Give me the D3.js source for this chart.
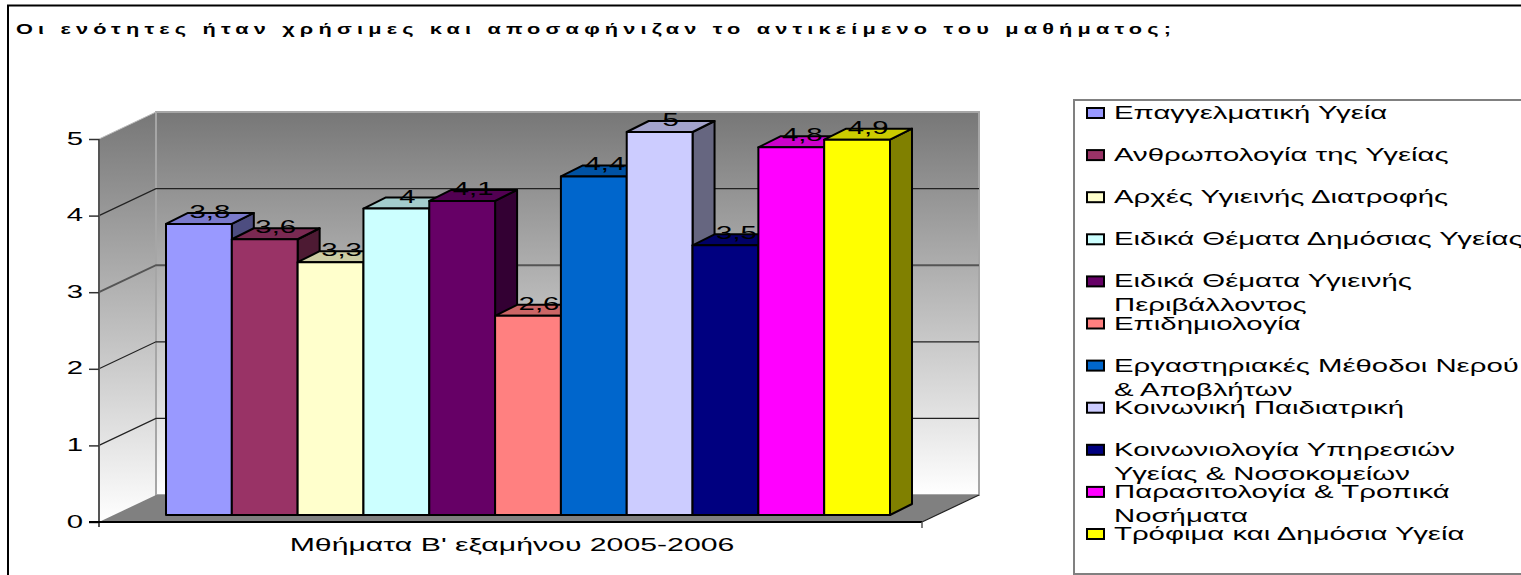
<!DOCTYPE html>
<html>
<head>
<meta charset="utf-8">
<script src="https://cdn.jsdelivr.net/npm/d3@7"></script>
<style>
  html, body { margin: 0; padding: 0; background: #fff; overflow: hidden; }
  svg { display: block; }
  text { font-family: "Liberation Sans", Arial, sans-serif; fill: #000; }
</style>
</head>
<body>
<div id="chart"></div>
<script>
const chartTitle = "Οι ενότητες ήταν χρήσιμες και αποσαφήνιζαν το αντικείμενο του μαθήματος;";
const axisTitle = "Μθήματα Β' εξαμήνου 2005-2006";
const courses = [
  "Επαγγελματική Υγεία",
  "Ανθρωπολογία της Υγείας",
  "Αρχές Υγιεινής Διατροφής",
  "Ειδικά Θέματα Δημόσιας Υγείας",
  "Ειδικά Θέματα Υγιεινής\nΠεριβάλλοντος",
  "Επιδημιολογία",
  "Εργαστηριακές Μέθοδοι Νερού\n& Αποβλήτων",
  "Κοινωνική Παιδιατρική",
  "Κοινωνιολογία Υπηρεσιών\nΥγείας & Νοσοκομείων",
  "Παρασιτολογία & Τροπικά\nΝοσήματα",
  "Τρόφιμα και Δημόσια Υγεία"
];
const scores = [3.8, 3.6, 3.3, 4, 4.1, 2.6, 4.42, 5, 3.52, 4.8, 4.9];
const scoreLabels = ["3,8", "3,6", "3,3", "4", "4,1", "2,6", "4,4", "5", "3,5", "4,8", "4,9"];
const barColors = ["#9999ff", "#993366", "#ffffcc", "#ccffff", "#660066", "#ff8080",
                   "#0066cc", "#ccccff", "#000080", "#ff00ff", "#ffff00"];
const yTicks = [0, 1, 2, 3, 4, 5];

const width = 1521, height = 575;
const stretch = 1.63; // the original picture is squashed sideways, text looks wide

const svg = d3.select("#chart").append("svg")
  .attr("width", width)
  .attr("height", height);

// front left edge of the box, the rest is offset from it
const yScale = d3.scaleLinear().domain([0, 5]).range([522, 139]);
const xScale = d3.scaleBand().domain(courses).range([166, 890]);
const frontLeft = 99, frontRight = 922;
const wallDx = 57, wallDy = -27;
const barDx = 22, barDy = -11, barLift = -7;

const shade = (c, k) => {
  const r = d3.rgb(c);
  return d3.rgb(r.r * k, r.g * k, r.b * k).formatHex();
};
const pts = a => a.map(p => p.join(",")).join(" ");

// wall gradient
const defs = svg.append("defs");
const grad = defs.append("linearGradient")
  .attr("id", "wallFill")
  .attr("x1", 0).attr("y1", 0).attr("x2", 0).attr("y2", 1);
grad.append("stop").attr("offset", "0%").attr("stop-color", "#777777");
grad.append("stop").attr("offset", "100%").attr("stop-color", "#ffffff");

// outer frame, only top and left show
svg.append("path")
  .attr("d", `M8,${height} V5.5 H${width}`)
  .attr("fill", "none")
  .attr("stroke", "#000")
  .attr("stroke-width", 2);

// title
svg.append("text")
  .attr("transform", "translate(16,34) scale(1.45,1)")
  .attr("font-size", 15)
  .attr("font-weight", "bold")
  .attr("textLength", 1155 / 1.45)
  .attr("lengthAdjust", "spacing")
  .text(chartTitle);

// side wall
svg.append("polygon")
  .attr("points", pts([
    [frontLeft, yScale(5)], [frontLeft + wallDx, yScale(5) + wallDy],
    [frontLeft + wallDx, yScale(0) + wallDy], [frontLeft, yScale(0)]
  ]))
  .attr("fill", "url(#wallFill)");

// back wall
svg.append("rect")
  .attr("x", frontLeft + wallDx)
  .attr("y", yScale(5) + wallDy)
  .attr("width", frontRight - frontLeft)
  .attr("height", yScale(0) - yScale(5))
  .attr("fill", "url(#wallFill)")
  .attr("stroke", "#a6a6a6")
  .attr("stroke-width", 2);

// floor
svg.append("polygon")
  .attr("points", pts([
    [frontLeft, yScale(0)], [frontLeft + wallDx, yScale(0) + wallDy],
    [frontRight + wallDx, yScale(0) + wallDy], [frontRight, yScale(0)]
  ]))
  .attr("fill", "#808080");

// gridlines on side and back wall
svg.append("g").selectAll("polyline")
  .data(yTicks.filter(d => d > 0 && d < 5))
  .enter().append("polyline")
  .attr("points", d => pts([
    [frontLeft, yScale(d)], [frontLeft + wallDx, yScale(d) + wallDy],
    [frontRight + wallDx, yScale(d) + wallDy]
  ]))
  .attr("fill", "none")
  .attr("stroke", d => d === 3 ? "#555" : "#222")
  .attr("stroke-width", d => d === 3 ? 2 : 1.2);

svg.append("line")
  .attr("x1", frontLeft).attr("y1", yScale(5))
  .attr("x2", frontLeft + wallDx).attr("y2", yScale(5) + wallDy)
  .attr("stroke", "#bbb");

// 3d bars, left to right so the later ones cover the earlier ones
const bars = svg.append("g").selectAll("g")
  .data(courses)
  .enter().append("g")
  .attr("stroke", "#000")
  .attr("stroke-width", 2)
  .attr("stroke-linejoin", "round");

const barTop = i => yScale(scores[i]) + barLift;
const barBase = yScale(0) + barLift;

bars.append("polygon") // side
  .attr("points", (d, i) => {
    const r = xScale(d) + xScale.bandwidth();
    return pts([[r, barTop(i)], [r + barDx, barTop(i) + barDy], [r + barDx, barBase + barDy], [r, barBase]]);
  })
  .attr("fill", (d, i) => shade(barColors[i], 0.5));

bars.append("polygon") // top
  .attr("points", (d, i) => {
    const l = xScale(d), r = l + xScale.bandwidth();
    return pts([[l, barTop(i)], [l + barDx, barTop(i) + barDy], [r + barDx, barTop(i) + barDy], [r, barTop(i)]]);
  })
  .attr("fill", (d, i) => shade(barColors[i], 0.8));

bars.append("rect") // front
  .attr("x", d => xScale(d))
  .attr("y", (d, i) => barTop(i))
  .attr("width", xScale.bandwidth())
  .attr("height", (d, i) => barBase - barTop(i))
  .attr("fill", (d, i) => barColors[i]);

// value labels
svg.append("g").selectAll("text")
  .data(courses)
  .enter().append("text")
  .attr("transform", (d, i) =>
    `translate(${xScale(d) + xScale.bandwidth() / 2 + barDx / 2},${barTop(i) - 6}) scale(${stretch},1)`)
  .attr("text-anchor", "middle")
  .attr("font-size", 18)
  .attr("fill", "#111")
  .text((d, i) => scoreLabels[i]);

// y axis
const yAxis = svg.append("g")
  .attr("transform", `translate(${frontLeft},0)`)
  .call(d3.axisLeft(yScale).tickValues(yTicks).tickSize(10).tickFormat(d3.format("d")));
yAxis.select(".domain")
  .attr("d", `M0,${yScale(5)} V${yScale(0) + 5}`)
  .attr("stroke", "#555")
  .attr("stroke-width", 2);
yAxis.selectAll("line").attr("stroke", "#333").attr("stroke-width", 1.5);
yAxis.selectAll("text")
  .attr("x", null).attr("dy", null)
  .attr("transform", `translate(-16,5) scale(${stretch},1)`)
  .attr("font-size", 18)
  .attr("font-family", "Liberation Sans");

// x axis line
svg.append("line")
  .attr("x1", frontLeft - 10).attr("y1", yScale(0))
  .attr("x2", frontRight).attr("y2", yScale(0))
  .attr("stroke", "#000").attr("stroke-width", 2);
svg.append("line")
  .attr("x1", frontRight).attr("y1", yScale(0))
  .attr("x2", frontRight + wallDx).attr("y2", yScale(0) + wallDy)
  .attr("stroke", "#222").attr("stroke-width", 1.2);
svg.append("line")
  .attr("x1", frontRight).attr("y1", yScale(0))
  .attr("x2", frontRight).attr("y2", yScale(0) + 6)
  .attr("stroke", "#555").attr("stroke-width", 1.5);

svg.append("text")
  .attr("transform", `translate(512,551) scale(1.68,1)`)
  .attr("text-anchor", "middle")
  .attr("font-size", 18)
  .text(axisTitle);

// legend
svg.append("rect")
  .attr("x", 1074).attr("y", 100)
  .attr("width", 500).attr("height", 474)
  .attr("fill", "#fff")
  .attr("stroke", "#808080")
  .attr("stroke-width", 2);

const legendY = d3.scalePoint().domain(courses).range([113, 534]);
const legend = svg.append("g").selectAll("g")
  .data(courses)
  .enter().append("g")
  .attr("transform", d => `translate(1087,${legendY(d)})`);

legend.append("rect")
  .attr("x", 0).attr("y", -5)
  .attr("width", 17).attr("height", 10)
  .attr("fill", (d, i) => barColors[i])
  .attr("stroke", "#000")
  .attr("stroke-width", 2);

legend.each(function (d) {
  d.split("\n").forEach((line, j) => {
    d3.select(this).append("text")
      .attr("transform", `translate(27,${6 + j * 24}) scale(${stretch},1)`)
      .attr("font-size", 18)
      .text(line);
  });
});
</script>
</body>
</html>
